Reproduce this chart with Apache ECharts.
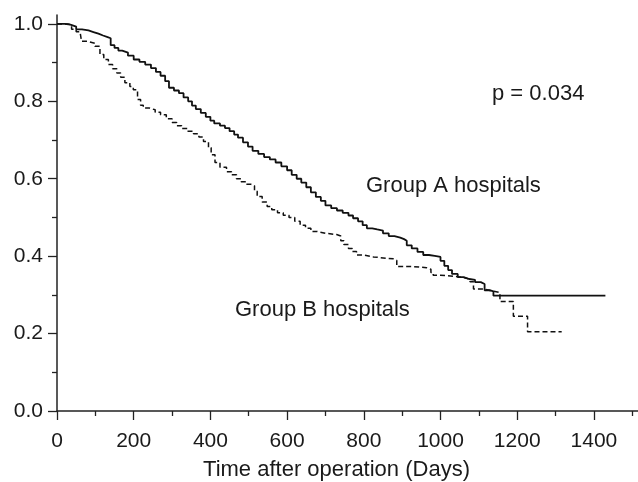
<!DOCTYPE html>
<html>
<head>
<meta charset="utf-8">
<script src="https://cdn.jsdelivr.net/npm/echarts@6/dist/echarts.min.js"></script>
<style>html,body{margin:0;padding:0;background:#fff;}#c{width:638px;height:482px;}</style>
</head>
<body>
<div id="c"></div>
<script>
// Group A hospitals (solid) : time (days), survival
const groupATimes = [0,20,35,50,65,82,95,108,120,132,140,150,160,170,185,200,215,230,245,258,270,282,292,305,318,330,342,352,362,375,388,400,410,425,438,450,462,472,485,498,510,525,540,555,570,585,600,612,625,637,650,662,675,688,700,715,730,745,760,772,785,797,808,822,835,850,865,880,895,905,912,925,940,955,970,985,1000,1010,1020,1030,1045,1060,1075,1090,1105,1115,1128,1138,1430];
const groupASurv  = [1.0,0.998,0.993,0.986,0.983,0.979,0.975,0.970,0.966,0.963,0.945,0.938,0.931,0.926,0.918,0.908,0.902,0.895,0.886,0.876,0.866,0.852,0.835,0.828,0.821,0.810,0.800,0.789,0.780,0.770,0.760,0.750,0.743,0.737,0.731,0.723,0.714,0.706,0.694,0.683,0.672,0.664,0.656,0.650,0.642,0.632,0.622,0.610,0.600,0.590,0.578,0.565,0.553,0.543,0.531,0.524,0.518,0.512,0.505,0.498,0.490,0.480,0.472,0.469,0.466,0.459,0.452,0.448,0.444,0.440,0.428,0.420,0.411,0.403,0.401,0.398,0.388,0.375,0.364,0.354,0.346,0.341,0.339,0.333,0.328,0.312,0.309,0.298,0.298];
// Group B hospitals (dashed)
const groupBTimes = [0,28,38,50,60,64,80,99,112,122,134,145,156,166,177,190,199,210,218,225,240,256,270,285,300,312,325,340,356,370,382,395,402,412,425,442,455,468,480,495,505,515,522,535,548,560,575,590,605,620,634,648,662,677,700,729,740,748,760,770,781,800,825,877,886,930,964,975,981,1000,1033,1060,1077,1086,1112,1135,1155,1190,1227,1316];
const groupBSurv  = [1.0,0.997,0.986,0.980,0.976,0.955,0.950,0.942,0.921,0.908,0.895,0.884,0.873,0.862,0.848,0.838,0.830,0.805,0.790,0.783,0.778,0.772,0.765,0.755,0.745,0.737,0.730,0.723,0.716,0.708,0.696,0.680,0.662,0.642,0.630,0.618,0.610,0.600,0.592,0.586,0.582,0.568,0.554,0.540,0.528,0.520,0.512,0.506,0.500,0.490,0.480,0.472,0.464,0.459,0.456,0.452,0.440,0.430,0.420,0.412,0.403,0.398,0.393,0.389,0.373,0.370,0.366,0.358,0.351,0.348,0.345,0.340,0.334,0.315,0.310,0.306,0.283,0.245,0.205,0.205];

const xMajorTicks = [0,200,400,600,800,1000,1200,1400];
const xMinorTicks = [100,300,500,700,900,1100,1300,1500];
const yMajorTicks = [0,0.2,0.4,0.6,0.8,1.0];
const yMinorTicks = [0.1,0.3,0.5,0.7,0.9];

const axisColor = '#222';
const fontFamily = '"Liberation Sans", Arial, sans-serif';
const zip = (a, b) => a.map((v, i) => [v, b[i]]);

const chart = echarts.init(document.getElementById('c'), null, {renderer: 'canvas'});
chart.setOption({
  animation: false,
  backgroundColor: '#fff',
  grid: {left: 57, right: 0, top: 15, bottom: 71, containLabel: false},
  xAxis: [{
    type: 'value', min: 0, max: 1515, position: 'bottom',
    axisLine: {show: true, onZero: false, lineStyle: {color: axisColor, width: 1.5}},
    axisTick: {show: true, inside: false, length: 9, customValues: xMajorTicks, lineStyle: {color: axisColor, width: 1.3}},
    axisLabel: {show: true, customValues: xMajorTicks, margin: 20, color: '#1a1a1a', fontSize: 21, fontFamily: fontFamily,
      formatter: v => String(Math.round(v))},
    splitLine: {show: false}
  }, {
    type: 'value', min: 0, max: 1515, position: 'bottom',
    axisLine: {show: false},
    axisTick: {show: true, inside: false, length: 5, customValues: xMinorTicks, lineStyle: {color: axisColor, width: 1.3}},
    axisLabel: {show: false},
    splitLine: {show: false}
  }],
  yAxis: [{
    type: 'value', min: 0, max: 1.023, position: 'left',
    axisLine: {show: true, onZero: false, lineStyle: {color: axisColor, width: 1.5}},
    axisTick: {show: true, inside: false, length: 9, customValues: yMajorTicks, lineStyle: {color: axisColor, width: 1.3}},
    axisLabel: {show: true, customValues: yMajorTicks, margin: 14, color: '#1a1a1a', fontSize: 21, fontFamily: fontFamily,
      formatter: v => v.toFixed(1)},
    splitLine: {show: false}
  }, {
    type: 'value', min: 0, max: 1.023, position: 'left',
    axisLine: {show: false},
    axisTick: {show: true, inside: false, length: 5, customValues: yMinorTicks, lineStyle: {color: axisColor, width: 1.3}},
    axisLabel: {show: false},
    splitLine: {show: false}
  }],
  series: [{
    name: 'Group A hospitals', type: 'line', step: 'end', xAxisIndex: 0, yAxisIndex: 0,
    data: zip(groupATimes, groupASurv), showSymbol: false, symbol: 'none',
    lineStyle: {color: '#111', width: 1.8, type: 'solid'}
  }, {
    name: 'Group B hospitals', type: 'line', step: 'end', xAxisIndex: 0, yAxisIndex: 0,
    data: zip(groupBTimes, groupBSurv), showSymbol: false, symbol: 'none',
    lineStyle: {color: '#111', width: 1.5, type: [5, 3]}
  }],
  graphic: [
    {type: 'text', x: 492, y: 94, style: {text: 'p = 0.034', fill: '#1a1a1a', font: '22px ' + fontFamily, align: 'left', verticalAlign: 'middle'}},
    {type: 'text', x: 366, y: 186, style: {text: 'Group A hospitals', fill: '#1a1a1a', font: '22px ' + fontFamily, align: 'left', verticalAlign: 'middle'}},
    {type: 'text', x: 235, y: 310, style: {text: 'Group B hospitals', fill: '#1a1a1a', font: '22px ' + fontFamily, align: 'left', verticalAlign: 'middle'}},
    {type: 'text', x: 336.5, y: 470, style: {text: 'Time after operation (Days)', fill: '#1a1a1a', font: '22px ' + fontFamily, align: 'center', verticalAlign: 'middle'}}
  ]
});
</script>
</body>
</html>
